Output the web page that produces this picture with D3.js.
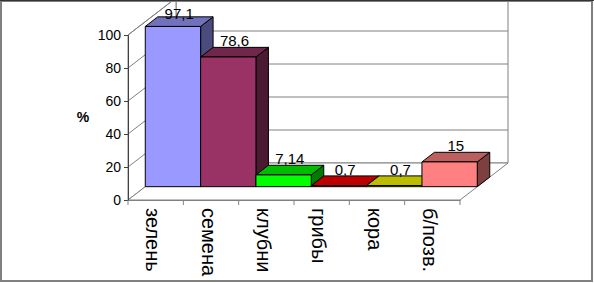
<!DOCTYPE html>
<html>
<head>
<meta charset="utf-8">
<script src="https://cdn.jsdelivr.net/npm/d3@7"></script>
<style>
  body { margin: 0; background: #fff; }
  svg { display: block; font-family: "Liberation Sans", Arial, sans-serif; }
</style>
</head>
<body>
<div id="chart"></div>
<script>
// data
const categories = ["зелень", "семена", "клубни", "грибы", "кора", "б/позв."];
const values = [97.1, 78.6, 7.14, 0.7, 0.7, 15];
const valueLabels = ["97,1", "78,6", "7,14", "0,7", "0,7", "15"];
const yTicks = [0, 20, 40, 60, 80, 100];

const frontColors = ["#9999FF", "#993366", "#00FF00", "#FF0000", "#FFFF00", "#FF8080"];

const width = 594, height = 283;

const svg = d3.select("#chart")
  .append("svg")
  .attr("width", width)
  .attr("height", height);

// front plane scales
const x = d3.scaleBand()
  .domain(categories)
  .range([128, 460])
  .padding(0);

const y = d3.scaleLinear()
  .domain([0, 100])
  .range([200, 35]);

// depth of the box (full depth offset on screen)
const depthX = 48, depthY = -37;
const t1 = 0.36, t2 = 0.62; // bar front / back depth fractions

// project a point: position on category axis, value, depth fraction
function P(px, v, t) {
  return [px + t * depthX, y(v) + t * depthY];
}
const poly = pts => pts.map(p => p.join(",")).join(" ");

const chart = svg.append("g");

// walls and floor
const x0 = x.range()[0], x1 = x.range()[1];
chart.append("polygon") // back wall
  .attr("points", poly([P(x0, 0, 1), P(x1, 0, 1), P(x1, 100, 1), P(x0, 100, 1)]))
  .attr("fill", "#fff").attr("stroke", "#808080");
chart.append("polygon") // left wall
  .attr("points", poly([P(x0, 0, 0), P(x0, 100, 0), P(x0, 100, 1), P(x0, 0, 1)]))
  .attr("fill", "#fff").attr("stroke", "#808080");
chart.append("polygon") // floor
  .attr("points", poly([P(x0, 0, 0), P(x1, 0, 0), P(x1, 0, 1), P(x0, 0, 1)]))
  .attr("fill", "#fff").attr("stroke", "#808080");

// gridlines on left and back wall
chart.selectAll(".grid")
  .data(yTicks.filter(d => d > 0))
  .enter()
  .append("polyline")
    .attr("class", "grid")
    .attr("points", d => poly([P(x0, d, 0), P(x0, d, 1), P(x1, d, 1)]))
    .attr("fill", "none")
    .attr("stroke", "#808080");

// value axis
const yAxis = svg.append("g")
  .attr("transform", `translate(${x0},0)`)
  .call(d3.axisLeft(y).tickValues(yTicks).tickSize(4).tickPadding(3));
yAxis.selectAll("path, line").attr("stroke", "#404040");
yAxis.selectAll("text")
  .attr("font-size", "14px")
  .attr("font-family", "Liberation Sans, Arial, sans-serif")
  .attr("fill", "#000");

// category axis on floor front edge
const xAxis = svg.append("g")
  .attr("transform", `translate(0,${y(0)})`)
  .call(d3.axisBottom(x).tickSize(0).tickFormat(""));
xAxis.select(".domain").attr("stroke", "#808080");
xAxis.selectAll(".cat-tick")
  .data(d3.range(categories.length + 1))
  .enter()
  .append("line")
    .attr("class", "cat-tick")
    .attr("x1", i => x0 + i * x.bandwidth())
    .attr("x2", i => x0 + i * x.bandwidth())
    .attr("y1", 0)
    .attr("y2", 5)
    .attr("stroke", "#808080");

// bars, left to right so later bars cover side faces of earlier ones
const data = categories.map((c, i) => ({ cat: c, value: values[i], label: valueLabels[i], color: frontColors[i] }));

const bars = chart.selectAll(".bar")
  .data(data)
  .enter()
  .append("g")
    .attr("class", "bar");

bars.append("polygon") // side
  .attr("points", d => {
    const r = x(d.cat) + x.bandwidth();
    return poly([P(r, 0, t1), P(r, 0, t2), P(r, d.value, t2), P(r, d.value, t1)]);
  })
  .attr("fill", d => d3.color(d.color).darker(2).formatHex())
  .attr("stroke", "#000").attr("stroke-linejoin", "round");

bars.append("polygon") // top
  .attr("points", d => {
    const l = x(d.cat), r = l + x.bandwidth();
    return poly([P(l, d.value, t1), P(r, d.value, t1), P(r, d.value, t2), P(l, d.value, t2)]);
  })
  .attr("fill", d => d3.color(d.color).darker(0.85).formatHex())
  .attr("stroke", "#000").attr("stroke-linejoin", "round");

bars.append("polygon") // front
  .attr("points", d => {
    const l = x(d.cat), r = l + x.bandwidth();
    return poly([P(l, 0, t1), P(r, 0, t1), P(r, d.value, t1), P(l, d.value, t1)]);
  })
  .attr("fill", d => d.color)
  .attr("stroke", "#000").attr("stroke-linejoin", "round");

// value labels (kept inside the chart area at the top)
bars.append("text")
  .attr("x", d => P(x(d.cat) + x.bandwidth() / 2, d.value, (t1 + t2) / 2)[0])
  .attr("y", d => Math.max(P(0, d.value, t1)[1] - 11, 19))
  .attr("text-anchor", "middle")
  .attr("font-size", "15px")
  .attr("fill", "#000")
  .text(d => d.label);

// rotated category labels
svg.selectAll(".cat-label")
  .data(categories)
  .enter()
  .append("text")
    .attr("class", "cat-label")
    .attr("transform", d => `translate(${x(d) + x.bandwidth() / 2 - 9.5},208) rotate(90)`)
    .attr("font-size", "20px")
    .attr("fill", "#000")
    .text(d => d);

// axis title
svg.append("text")
  .attr("x", 83)
  .attr("y", 122)
  .attr("text-anchor", "middle")
  .attr("font-size", "14px")
  .attr("font-weight", "bold")
  .text("%");

// outer frame
svg.append("rect")
  .attr("x", 1).attr("y", 1)
  .attr("width", width - 3).attr("height", height - 3)
  .attr("fill", "none")
  .attr("stroke", "#808080")
  .attr("stroke-width", 2);
svg.append("line") // darker top edge
  .attr("x1", 0).attr("x2", width)
  .attr("y1", 0.5).attr("y2", 0.5)
  .attr("stroke", "#333");
</script>
</body>
</html>
